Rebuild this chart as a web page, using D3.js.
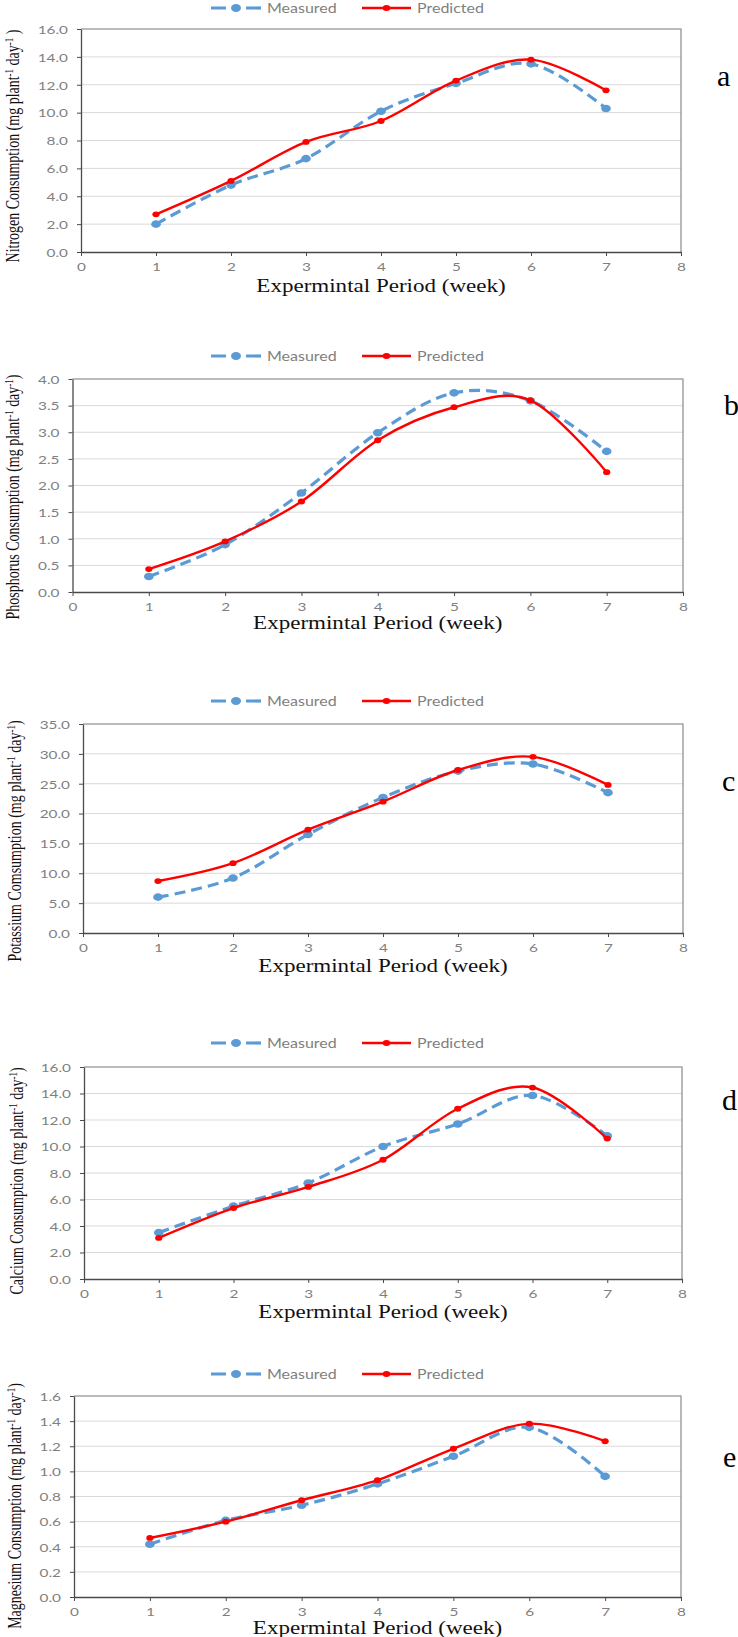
<!DOCTYPE html>
<html><head><meta charset="utf-8">
<script src="https://cdn.jsdelivr.net/npm/d3@7"></script>
<style>
html,body{margin:0;padding:0;background:#fff;}
svg{display:block;}
</style></head>
<body>
<svg id="chart" width="738" height="1637"></svg>
<script>
// ---------------- data ----------------
const weeks = [1, 2, 3, 4, 5, 6, 7];
const xTicks = [0, 1, 2, 3, 4, 5, 6, 7, 8];
const seriesNames = ["Measured", "Predicted"];

const nitrogenMeasured   = [2.0, 4.8, 6.7, 10.1, 12.1, 13.5, 10.3];
const nitrogenPredicted  = [2.7, 5.1, 7.9, 9.4, 12.3, 13.8, 11.6];
const nitrogenTicks      = [0, 2, 4, 6, 8, 10, 12, 14, 16];

const phosphorusMeasured  = [0.29, 0.89, 1.86, 2.99, 3.74, 3.59, 2.64];
const phosphorusPredicted = [0.43, 0.95, 1.70, 2.85, 3.47, 3.60, 2.25];
const phosphorusTicks     = [0, 0.5, 1, 1.5, 2, 2.5, 3, 3.5, 4];

const potassiumMeasured  = [6.0, 9.2, 16.5, 22.7, 27.1, 28.3, 23.5];
const potassiumPredicted = [8.7, 11.7, 17.3, 22.0, 27.3, 29.5, 24.8];
const potassiumTicks     = [0, 5, 10, 15, 20, 25, 30, 35];

const calciumMeasured  = [3.5, 5.5, 7.25, 10.0, 11.7, 13.85, 10.8];
const calciumPredicted = [3.1, 5.35, 6.95, 9.0, 12.85, 14.45, 10.6];
const calciumTicks     = [0, 2, 4, 6, 8, 10, 12, 14, 16];

const magnesiumMeasured  = [0.42, 0.61, 0.73, 0.90, 1.12, 1.35, 0.96];
const magnesiumPredicted = [0.47, 0.60, 0.77, 0.93, 1.18, 1.38, 1.24];
const magnesiumTicks     = [0, 0.2, 0.4, 0.6, 0.8, 1.0, 1.2, 1.4, 1.6];

const xTitle = "Expermintal Period (week)";

// ---------------- layout ----------------
const S = 1.28; // horizontal stretch of the original picture's text
const BLUE = "#5B9BD5", RED = "#FF0000";

const panels = [
  {letter:"a", name:"Nitrogen Consumption", tail:" )", measured:nitrogenMeasured, predicted:nitrogenPredicted, ticks:nitrogenTicks,
   l:81, r:681, t:29, b:252, legendY:8, titleDy:34, yTitleX:13, yTitleY:146, letterX:717, letterY:86},
  {letter:"b", name:"Phosphorus Consumption", tail:")", measured:phosphorusMeasured, predicted:phosphorusPredicted, ticks:phosphorusTicks,
   l:72.5, r:683, t:379, b:592, legendY:356, titleDy:31, yTitleX:13, yTitleY:497, letterX:724, letterY:415},
  {letter:"c", name:"Potassium Comsumption", tail:")", measured:potassiumMeasured, predicted:potassiumPredicted, ticks:potassiumTicks,
   l:83, r:683, t:724, b:933, legendY:701, titleDy:33, yTitleX:15, yTitleY:841, letterX:722, letterY:791},
  {letter:"d", name:"Calcium Consumption", tail:")", measured:calciumMeasured, predicted:calciumPredicted, ticks:calciumTicks,
   l:84, r:682, t:1067, b:1279, legendY:1043, titleDy:33, yTitleX:17, yTitleY:1181, letterX:722, letterY:1110},
  {letter:"e", name:"Magnesium Consumption", tail:")", measured:magnesiumMeasured, predicted:magnesiumPredicted, ticks:magnesiumTicks,
   l:74, r:681, t:1396, b:1597, legendY:1374, titleDy:31, yTitleX:15, yTitleY:1506, letterX:723, letterY:1467}
];

const svg = d3.select("#chart");
svg.append("rect").attr("width", 738).attr("height", 1637).attr("fill", "#fff");

const line = (x, y) => d3.line()
  .x((d, i) => x(weeks[i]))
  .y(d => y(d))
  .curve(d3.curveCatmullRom.alpha(0));

panels.forEach(p => {
  const g = svg.append("g").attr("class", "panel-" + p.letter);
  const x = d3.scaleLinear().domain([0, 8]).range([p.l, p.r]);
  const y = d3.scaleLinear().domain([0, d3.max(p.ticks)]).range([p.b, p.t]);
  const fmt = d3.format(".1f");

  // gridlines
  g.append("g").selectAll("line").data(p.ticks.filter(v => v > 0)).join("line")
    .attr("x1", p.l).attr("x2", p.r)
    .attr("y1", d => y(d)).attr("y2", d => y(d))
    .attr("stroke", "#d9d9d9").attr("stroke-width", 1);

  // plot-area border (top and right)
  g.append("path")
    .attr("d", `M${p.l},${y(d3.max(p.ticks))}H${p.r}V${p.b}`)
    .attr("fill", "none").attr("stroke", "#8a8a8a").attr("stroke-width", 1.2);

  // y axis
  const ya = g.append("g").attr("transform", `translate(${p.l},0)`)
    .call(d3.axisLeft(y).tickValues(p.ticks).tickFormat(fmt).tickSize(4).tickSizeOuter(0));
  ya.select(".domain").attr("stroke", "#4a4a4a").attr("stroke-width", 1.3);
  ya.selectAll(".tick line").attr("stroke", "#4a4a4a");
  ya.selectAll(".tick text")
    .attr("x", 0).attr("dy", "0.36em")
    .attr("transform", `translate(-13,0) scale(${S},1)`)
    .attr("text-anchor", "end")
    .attr("fill", "#7f7f7f")
    .style("font-family", "Lato, 'Open Sans', sans-serif").style("font-size", "12px");

  // x axis
  const xa = g.append("g").attr("transform", `translate(0,${p.b})`)
    .call(d3.axisBottom(x).tickValues(xTicks).tickFormat(d3.format("d")).tickSize(4).tickSizeOuter(0));
  xa.select(".domain").attr("stroke", "#4a4a4a").attr("stroke-width", 1.3);
  xa.selectAll(".tick line").attr("stroke", "#4a4a4a");
  xa.selectAll(".tick text")
    .attr("y", 0).attr("dy", "0.36em")
    .attr("transform", `translate(0,14.5) scale(${S},1)`)
    .attr("fill", "#7f7f7f")
    .style("font-family", "Lato, 'Open Sans', sans-serif").style("font-size", "12px");

  // series lines
  g.append("path").datum(p.measured)
    .attr("d", line(x, y))
    .attr("fill", "none").attr("stroke", BLUE).attr("stroke-width", 3.2)
    .attr("stroke-dasharray", "11,6");
  g.append("g").selectAll("ellipse").data(p.measured).join("ellipse")
    .attr("cx", (d, i) => x(weeks[i])).attr("cy", d => y(d))
    .attr("rx", 4.8).attr("ry", 3.8).attr("fill", BLUE);

  g.append("path").datum(p.predicted)
    .attr("d", line(x, y))
    .attr("fill", "none").attr("stroke", RED).attr("stroke-width", 2.4);
  g.append("g").selectAll("ellipse").data(p.predicted).join("ellipse")
    .attr("cx", (d, i) => x(weeks[i])).attr("cy", d => y(d))
    .attr("rx", 3.6).attr("ry", 2.9).attr("fill", RED);

  // legend
  const lg = g.append("g").attr("transform", `translate(0,${p.legendY})`);
  lg.append("line").attr("x1", 211).attr("x2", 261).attr("y1", 0).attr("y2", 0)
    .attr("stroke", BLUE).attr("stroke-width", 3.2).attr("stroke-dasharray", "15,20");
  lg.append("ellipse").attr("cx", 236).attr("cy", 0).attr("rx", 5).attr("ry", 4).attr("fill", BLUE);
  lg.append("line").attr("x1", 362).attr("x2", 411).attr("y1", 0).attr("y2", 0)
    .attr("stroke", RED).attr("stroke-width", 2.4);
  lg.append("ellipse").attr("cx", 386.5).attr("cy", 0).attr("rx", 3.8).attr("ry", 3).attr("fill", RED);
  [[seriesNames[0], 267], [seriesNames[1], 417]].forEach(([t, lx]) => {
    lg.append("text").text(t)
      .attr("transform", `translate(${lx},0) scale(${S},1)`)
      .attr("dy", "0.36em").attr("fill", "#7f7f7f")
      .style("font-family", "Lato, 'Open Sans', sans-serif").style("font-size", "12.5px");
  });

  // x title
  g.append("text").text(xTitle)
    .attr("transform", `translate(${(p.l + p.r) / 2},${p.b + p.titleDy}) scale(${S},1)`)
    .attr("dy", "0.36em").attr("text-anchor", "middle").attr("fill", "#111")
    .style("font-family", "'Liberation Serif', 'Times New Roman', serif").style("font-size", "18px");

  // y title
  const yt = g.append("text")
    .attr("transform", `translate(${p.yTitleX},${p.yTitleY}) scale(${S},1) rotate(-90)`)
    .attr("dy", "0.33em").attr("text-anchor", "middle").attr("fill", "#111")
    .style("font-family", "'Liberation Serif', 'Times New Roman', serif").style("font-size", "14px");
  yt.append("tspan").text(p.name + " (mg plant");
  yt.append("tspan").text("-1").attr("baseline-shift", "super").style("font-size", "9px");
  yt.append("tspan").text(" day");
  yt.append("tspan").text("-1").attr("baseline-shift", "super").style("font-size", "9px");
  yt.append("tspan").text(p.tail);

  // panel letter
  g.append("text").text(p.letter)
    .attr("x", p.letterX).attr("y", p.letterY).attr("fill", "#000")
    .style("font-family", "'Liberation Serif', 'Times New Roman', serif").style("font-size", "30px");
});
</script>
</body></html>
